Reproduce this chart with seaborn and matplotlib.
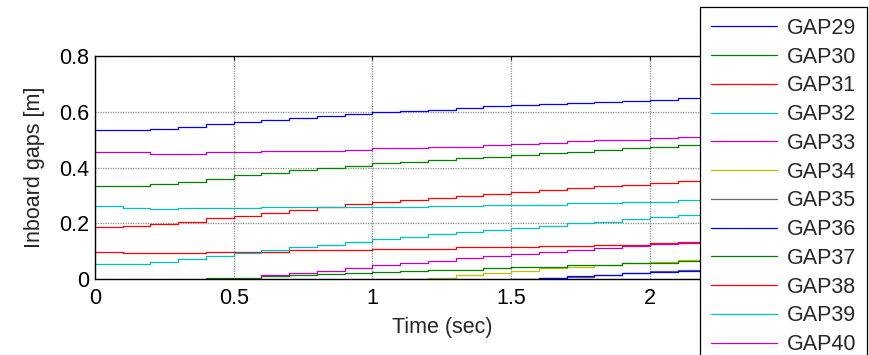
import numpy as np
import pandas as pd
import seaborn as sns
import matplotlib.pyplot as plt

# time samples (sec)
t = [0.0, 0.1, 0.2, 0.3, 0.4, 0.5, 0.6, 0.7, 0.8, 0.9, 1.0, 1.1, 1.2,
     1.3, 1.4, 1.5, 1.6, 1.7, 1.8, 1.9, 2.0, 2.1, 2.2, 2.3, 2.4, 2.5]

gap29 = [0.534, 0.534, 0.540, 0.547, 0.556, 0.565, 0.572, 0.578, 0.585, 0.592, 0.599, 0.603, 0.608,
         0.614, 0.620, 0.624, 0.629, 0.632, 0.636, 0.640, 0.643, 0.650, 0.657, 0.662, 0.667, 0.672]
gap30 = [0.335, 0.335, 0.340, 0.350, 0.360, 0.372, 0.382, 0.390, 0.398, 0.407, 0.415, 0.421, 0.427,
         0.433, 0.439, 0.445, 0.451, 0.457, 0.463, 0.469, 0.475, 0.480, 0.486, 0.490, 0.495, 0.500]
gap31 = [0.187, 0.190, 0.197, 0.207, 0.218, 0.228, 0.238, 0.248, 0.258, 0.268, 0.277, 0.284, 0.292,
         0.299, 0.306, 0.313, 0.320, 0.327, 0.333, 0.339, 0.345, 0.351, 0.356, 0.361, 0.366, 0.370]
gap32 = [0.262, 0.257, 0.252, 0.257, 0.257, 0.257, 0.258, 0.259, 0.260, 0.260, 0.260, 0.260, 0.261,
         0.262, 0.267, 0.267, 0.267, 0.272, 0.272, 0.277, 0.277, 0.283, 0.283, 0.288, 0.290, 0.293]
gap33 = [0.456, 0.456, 0.450, 0.450, 0.456, 0.456, 0.460, 0.460, 0.460, 0.464, 0.469, 0.469, 0.475,
         0.475, 0.480, 0.485, 0.489, 0.494, 0.499, 0.499, 0.505, 0.509, 0.515, 0.520, 0.525, 0.530]
gap34 = [None] * 11 + [0.002, 0.006, 0.015, 0.022, 0.031, 0.040, 0.045, 0.051, 0.058, 0.063,
                       0.070, 0.076, 0.080, 0.085, 0.090]
gap35 = [None] * 16 + [0.003, 0.010, 0.016, 0.022, 0.029, 0.035, 0.042, 0.047, 0.052, 0.057]
gap36 = [None] * 15 + [0.000, 0.005, 0.012, 0.016, 0.021, 0.026, 0.031, 0.037, 0.042, 0.046, 0.050]
gap37 = [None] * 4 + [0.004, 0.006, 0.012, 0.015, 0.020, 0.022, 0.025, 0.029, 0.034, 0.035, 0.039,
                      0.044, 0.045, 0.050, 0.053, 0.058, 0.060, 0.064, 0.066, 0.069, 0.072, 0.075]
gap38 = [0.099, 0.093, 0.093, 0.093, 0.099, 0.099, 0.099, 0.104, 0.104, 0.104, 0.110, 0.110, 0.110,
         0.116, 0.116, 0.116, 0.118, 0.118, 0.123, 0.123, 0.129, 0.129, 0.131, 0.133, 0.135, 0.137]
gap39 = [0.054, 0.054, 0.062, 0.072, 0.083, 0.094, 0.104, 0.115, 0.124, 0.134, 0.144, 0.152, 0.161,
         0.169, 0.177, 0.185, 0.192, 0.200, 0.207, 0.215, 0.222, 0.229, 0.236, 0.242, 0.248, 0.254]
gap40 = [None] * 5 + [0.000, 0.014, 0.021, 0.031, 0.041, 0.051, 0.059, 0.067, 0.075, 0.083, 0.090,
                      0.097, 0.105, 0.112, 0.119, 0.126, 0.133, 0.140, 0.146, 0.152, 0.158]

names = ['GAP29', 'GAP30', 'GAP31', 'GAP32', 'GAP33', 'GAP34',
         'GAP35', 'GAP36', 'GAP37', 'GAP38', 'GAP39', 'GAP40']
series = [gap29, gap30, gap31, gap32, gap33, gap34,
          gap35, gap36, gap37, gap38, gap39, gap40]

# old matlab colour order
matlab_colors = [(0, 0, 1), (0, 0.5, 0), (1, 0, 0), (0, 0.75, 0.75),
                 (0.75, 0, 0.75), (0.75, 0.75, 0), (0.4, 0.4, 0.4)]
palette = [matlab_colors[i % 7] for i in range(len(names))]

xticks = [0, 0.5, 1, 1.5, 2]
xticklabels = ['0', '0.5', '1', '1.5', '2']
yticks = [0, 0.2, 0.4, 0.6, 0.8]
yticklabels = ['0', '0.2', '0.4', '0.6', '0.8']

rows = []
for name, vals in zip(names, series):
    for ti, v in zip(t, vals):
        if v is not None:
            rows.append((name, ti, v))
df = pd.DataFrame(rows, columns=['gap', 'time', 'value'])

sns.set_style('white')
plt.rcParams['font.family'] = ['Liberation Sans', 'DejaVu Sans']
fs = 15.5

fig = plt.figure(figsize=(8.69, 3.55), dpi=100)
ax = fig.add_axes([0.1093, 0.2132, 0.7983, 0.6291])

for name, col in zip(names, palette):
    sns.lineplot(data=df[df['gap'] == name], x='time', y='value', color=col,
                 label=name, estimator=None, drawstyle='steps-post',
                 linewidth=0.9, ax=ax)

ax.set_xlim(0, 2.5)
ax.set_ylim(0, 0.8)
ax.set_xticks(xticks)
ax.set_xticklabels(xticklabels)
ax.set_yticks(yticks)
ax.set_yticklabels(yticklabels)
ax.tick_params(direction='in', length=3, width=0.8, top=True, right=True,
               labelsize=fs, colors='black')
ax.tick_params(axis='x', pad=6)
ax.tick_params(axis='y', pad=4)
ax.grid(True, color='0.55', linestyle=(0, (1, 1)), linewidth=0.9)
for s in ax.spines.values():
    s.set_visible(True)
    s.set_color('black')
    s.set_linewidth(1.0)

ax.set_xlabel('Time (sec)', fontsize=fs, labelpad=6)
ax.set_ylabel('Inboard gaps [m]', fontsize=fs, labelpad=10)

ax.legend(loc='upper left', bbox_to_anchor=(0.8055, 0.980),
          bbox_transform=fig.transFigure, fontsize=fs, frameon=True,
          fancybox=False, framealpha=1, edgecolor='black', borderaxespad=0,
          handlelength=3.1, handletextpad=0.42, labelspacing=0.36,
          borderpad=0.5)
ax.get_legend().get_frame().set_linewidth(0.9)

fig.savefig('out.png', dpi=100)
